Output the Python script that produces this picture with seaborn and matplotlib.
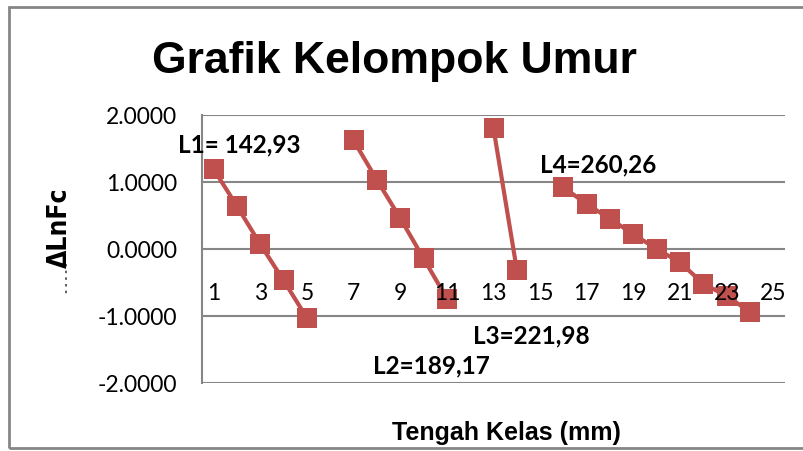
import numpy as np
import pandas as pd
import matplotlib
matplotlib.use("Agg")
import matplotlib.pyplot as plt
import seaborn as sns
from matplotlib.lines import Line2D
from matplotlib.patches import Rectangle

# kelas (kategori sumbu x) dan nilai delta LnFc tiap kelompok umur
kelas_l1 = [1, 2, 3, 4, 5]
dlnfc_l1 = [1.19, 0.64, 0.07, -0.47, -1.03]
kelas_l2 = [7, 8, 9, 10, 11]
dlnfc_l2 = [1.62, 1.03, 0.46, -0.14, -0.74]
kelas_l3 = [13, 14]
dlnfc_l3 = [1.80, -0.31]
kelas_l4 = [16, 17, 18, 19, 20, 21, 22, 23, 24]
dlnfc_l4 = [0.92, 0.67, 0.45, 0.22, 0.00, -0.20, -0.52, -0.70, -0.94]

label_l = ["L1= 142,93", "L2=189,17", "L3=221,98", "L4=260,26"]
y_ticks = [-2.0, -1.0, 0.0, 1.0, 2.0]
x_ticks = list(range(1, 26, 2))

df = pd.concat([
    pd.DataFrame({"kelas": kelas_l1, "dlnfc": dlnfc_l1, "seg": "L1"}),
    pd.DataFrame({"kelas": kelas_l2, "dlnfc": dlnfc_l2, "seg": "L2"}),
    pd.DataFrame({"kelas": kelas_l3, "dlnfc": dlnfc_l3, "seg": "L3"}),
    pd.DataFrame({"kelas": kelas_l4, "dlnfc": dlnfc_l4, "seg": "L4"}),
], ignore_index=True)

sns.set_style("white")
plt.rcParams['font.family'] = ['Lato', 'DejaVu Sans']
plt.rcParams['text.color'] = 'black'
plt.rcParams['xtick.color'] = 'black'
plt.rcParams['ytick.color'] = 'black'

W, H = 804, 452
fig = plt.figure(figsize=(W / 100, H / 100), dpi=100)
ax = fig.add_axes([202 / W, 1 - 384 / H, (785 - 202) / W, (384 - 116) / H])

red = "#C0504D"
grid_c = "#868686"

sns.lineplot(data=df, x="kelas", y="dlnfc", units="seg", estimator=None,
             color=red, lw=3, marker="s", markersize=14.5, markeredgewidth=0,
             ax=ax, zorder=3, clip_on=False, legend=False)

# posisi sumbu x di y=0 dulu, baru atur tick (set_position me-reset tick)
ax.spines["bottom"].set_position(("data", 0))
ax.spines["bottom"].set_visible(False)
for s in ["top", "right"]:
    ax.spines[s].set_visible(False)
ax.spines["left"].set_color(grid_c)
ax.spines["left"].set_linewidth(1.5)

ax.set_xlim(0.5, 25.5)
ax.set_ylim(-2, 2)
ax.set_yticks(y_ticks)
ax.set_yticklabels([f"{v:.4f}" for v in y_ticks])
ax.set_xticks(x_ticks)
ax.set_xticklabels([str(v) for v in x_ticks])
ax.tick_params(axis="y", length=5, width=1.5, color=grid_c, labelcolor="black",
               labelsize=16.5, pad=13, direction="out")
ax.tick_params(axis="x", length=0, pad=24, labelsize=16.5, labelcolor="black")
ax.xaxis.set_zorder(5)  # label kategori di atas marker, seperti di Excel
ax.set_xlabel("")
ax.set_ylabel("")

for v in y_ticks:
    ax.axhline(v, color=grid_c, lw=1.5, zorder=1)

bold = dict(fontsize=17.5, fontweight="bold", ha="left", va="baseline", color="black")
fig.text(178 / W, 1 - 152 / H, label_l[0], **bold)
fig.text(373 / W, 1 - 373 / H, label_l[1], **bold)
fig.text(473 / W, 1 - 343 / H, label_l[2], **bold)
fig.text(540 / W, 1 - 172 / H, label_l[3], **bold)

fig.text(394 / W, 1 - 73 / H, "Grafik Kelompok Umur", fontsize=32, fontweight="bold",
         family="Liberation Sans", ha="center", va="baseline", color="black")
fig.text(506 / W, 1 - 440 / H, "Tengah Kelas (mm)", fontsize=18, fontweight="bold",
         family="Liberation Sans", ha="center", va="baseline", color="black")
fig.text(60 / W, 1 - 228 / H, "ΔLnFc", fontsize=19, fontweight="bold",
         family="DejaVu Sans", fontstretch="condensed", rotation=90,
         ha="center", va="center", color="black")
fig.add_artist(Line2D([66 / W, 66 / W], [1 - 265 / H, 1 - 298 / H],
                      transform=fig.transFigure, color="#444444", lw=1.2,
                      linestyle=(0, (1.5, 2.5))))

fig.add_artist(Rectangle((9 / W, 1 - 449 / H), 1.2, (449 - 8) / H,
                         transform=fig.transFigure, fill=False,
                         edgecolor=grid_c, lw=2, clip_on=False))

fig.savefig("out.png", dpi=100)
